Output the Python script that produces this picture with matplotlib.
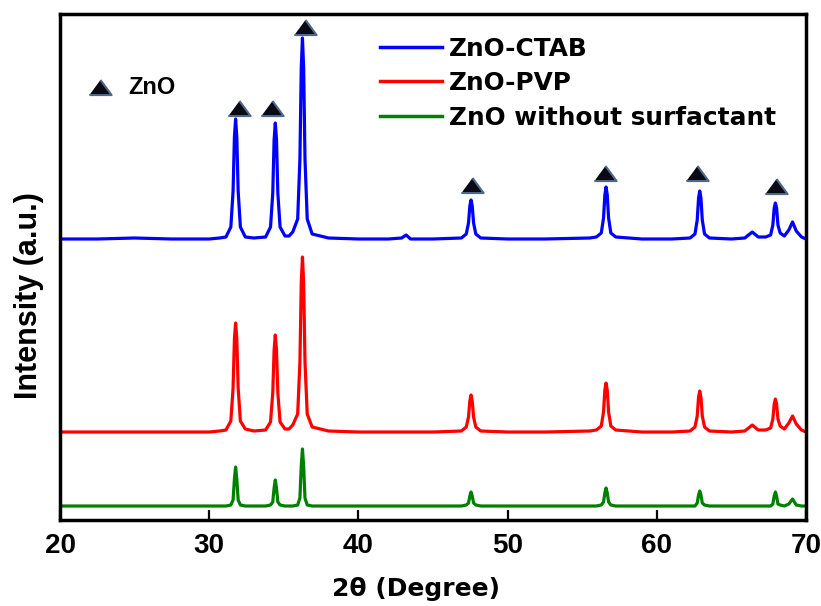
import matplotlib
matplotlib.use("Agg")
import matplotlib.pyplot as plt

# 2theta grid shared by the three patterns (degrees)
two_theta = [20.0, 22.5, 25.0, 27.5, 30.0, 30.7,
             31.12, 31.45, 31.60, 31.69, 31.77, 31.85, 31.94, 32.09, 32.42,
             33.0,
             33.78, 34.11, 34.26, 34.35, 34.43, 34.51, 34.60, 34.75, 35.08,
             35.35,
             35.6, 35.93, 36.08, 36.17, 36.25, 36.33, 36.42, 36.57, 36.9,
             38.0, 40.0, 42.0, 42.9, 43.2, 43.5, 45.0,
             46.9, 47.23, 47.38, 47.47, 47.55, 47.63, 47.72, 47.87, 48.2,
             50.0, 52.5, 55.5,
             55.95, 56.28, 56.43, 56.52, 56.6, 56.68, 56.77, 56.92, 57.25,
             59.0, 61.0,
             62.23, 62.56, 62.71, 62.80, 62.88, 62.96, 63.05, 63.20, 63.53,
             65.0, 65.9, 66.4, 66.8,
             67.3, 67.63, 67.78, 67.87, 67.95, 68.03, 68.12, 68.27, 68.55,
             68.85, 69.1, 69.35, 69.7, 70.0]

# intensities (a.u., already offset)
ctab = [281, 281, 282, 281, 281, 282,
        283, 293, 329, 383, 401, 383, 329, 293, 283,
        282,
        283, 293, 327, 380, 397, 380, 327, 293, 284,
        284,
        288, 301, 361, 452, 482, 452, 361, 301, 286,
        282, 281, 281, 282, 285, 281, 281,
        282, 286, 297, 314, 320, 314, 297, 286, 282,
        281, 281, 282,
        283, 287, 302, 325, 333, 325, 302, 287, 283,
        281, 281,
        282, 286, 300, 322, 329, 322, 300, 286, 282,
        281, 282, 288, 283,
        283, 285, 295, 312, 317, 312, 295, 287, 284,
        290, 298, 289, 283, 281]

pvp = [88, 88, 88, 88, 88, 89,
       90, 99, 132, 181, 197, 181, 132, 99, 91,
       89,
       90, 98, 127, 170, 185, 170, 127, 98, 91,
       91,
       95, 106, 158, 237, 263, 237, 158, 106, 93,
       89, 88, 88, 88, 88, 88, 88,
       89, 93, 103, 119, 125, 119, 103, 93, 89,
       88, 88, 89,
       90, 94, 108, 130, 137, 130, 108, 94, 90,
       88, 88,
       89, 93, 104, 123, 129, 123, 104, 93, 89,
       88, 89, 95, 90,
       90, 92, 101, 116, 121, 116, 101, 94, 91,
       97, 104, 96, 90, 88]

bare = [14, 14, 14, 14, 14, 14,
        14, 15, 20, 41, 53, 41, 20, 15, 14,
        14,
        14, 15, 18, 32, 40, 32, 18, 15, 14,
        14,
        14, 15, 22, 54, 71, 54, 22, 15, 14,
        14, 14, 14, 14, 14, 14, 14,
        14, 15, 17, 24, 28, 24, 17, 15, 14,
        14, 14, 14,
        14, 15, 18, 27, 32, 27, 18, 15, 14,
        14, 14,
        14, 14, 17, 25, 29, 25, 17, 15, 14,
        14, 14, 14, 14,
        14, 14, 16, 24, 28, 24, 16, 15, 14,
        16, 21, 15, 14, 14]

series = [("ZnO-CTAB", ctab, "#0000ff"),
          ("ZnO-PVP", pvp, "#ff0000"),
          ("ZnO without surfactant", bare, "#008000")]

# ZnO reflection markers
mark_x = [32.0, 34.2, 36.4, 47.6, 56.5, 62.7, 68.0]
mark_y = [412, 412, 493, 335, 347, 347, 334]

tri = [(-1, -0.68), (1, -0.68), (0, 0.68)]

fig = plt.figure(figsize=(8.21, 6.06), dpi=100)
ax = fig.add_axes([0.0731, 0.1419, 0.9086, 0.835])

for name, y, c in series:
    assert len(y) == len(two_theta)
    ax.plot(two_theta, y, color=c, lw=2.3, label=name, solid_joinstyle="round")

ax.plot(mark_x, mark_y, ls="none", marker=tri, ms=16, mfc="#0a0a14", mec="#50698a", mew=1.5)
ax.plot([22.7], [433], ls="none", marker=tri, ms=16, mfc="#0a0a14", mec="#50698a", mew=1.5)
ax.text(24.55, 433, "ZnO", fontsize=17, fontweight="bold", family="Liberation Sans", va="center", ha="left")

ax.set_xlim(20, 70)
ax.set_ylim(0, 506)
ax.set_xticks([20, 30, 40, 50, 60, 70])
ax.set_yticks([])
ax.tick_params(axis="x", direction="in", length=7, width=1.6, pad=9, top=False)
for lab in ax.get_xticklabels():
    lab.set_fontsize(20)
    lab.set_fontweight("bold")
    lab.set_family("Liberation Sans")
for sp in ax.spines.values():
    sp.set_linewidth(2.5)

ax.set_xlabel("2θ (Degree)", fontsize=18, fontweight="bold", family="DejaVu Sans")
ax.xaxis.set_label_coords(0.477, -0.113)
ax.set_ylabel("Intensity (a.u.)", fontsize=22, fontweight="bold", family="Liberation Sans")
ax.yaxis.set_label_coords(-0.022, 0.443)

leg = ax.legend(loc="upper left", bbox_to_anchor=(0.429, 0.955), frameon=False,
                prop={"family": "DejaVu Sans", "weight": "bold", "size": 17.8},
                handlelength=2.5, handletextpad=0.3, labelspacing=0.42,
                borderpad=0, borderaxespad=0)
for h in leg.get_lines():
    h.set_linewidth(2.5)

fig.savefig("out.png", dpi=100)
